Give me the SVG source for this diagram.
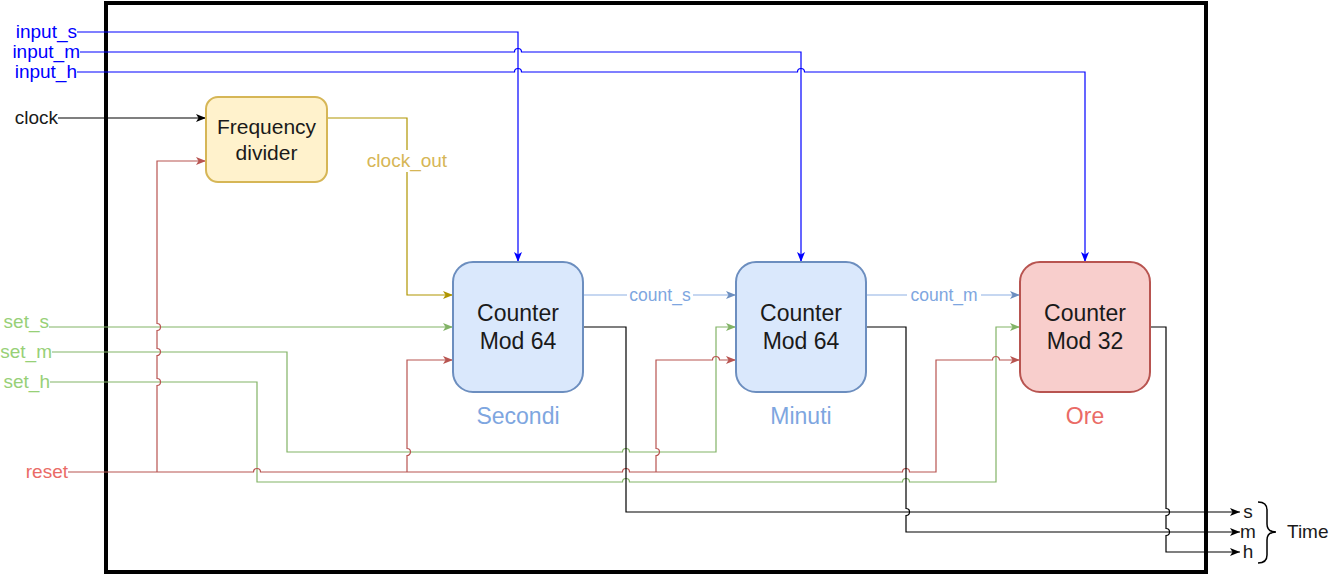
<svg xmlns="http://www.w3.org/2000/svg" width="1340" height="575" viewBox="0 0 1340 575">
<style>
text{font-family:"Liberation Sans",Arial,Helvetica,sans-serif;}
.w{fill:none;stroke-width:1.2;}
.blue{stroke:#0000FF;}
.blk{stroke:#000000;}
.yel{stroke:#B09500;}
.lb{stroke:#8DB0E3;}
.grn{stroke:#82B366;}
.red{stroke:#B85450;}
.lbl{font-size:19px;}
.big{font-size:23px;fill:#1a1a1a;text-anchor:middle;}
.cap{font-size:23px;text-anchor:middle;}
</style>
<defs>
<marker id="aBlue" markerUnits="userSpaceOnUse" markerWidth="11" markerHeight="9" refX="10" refY="4.5" orient="auto" viewBox="0 0 11 9"><path d="M0 0.5 L10 4.5 L0 8.5 L2.5 4.5 Z" fill="#0000FF"/></marker>
<marker id="aBlk" markerUnits="userSpaceOnUse" markerWidth="11" markerHeight="9" refX="10" refY="4.5" orient="auto" viewBox="0 0 11 9"><path d="M0 0.5 L10 4.5 L0 8.5 L2.5 4.5 Z" fill="#000000"/></marker>
<marker id="aYel" markerUnits="userSpaceOnUse" markerWidth="11" markerHeight="9" refX="10" refY="4.5" orient="auto" viewBox="0 0 11 9"><path d="M0 0.5 L10 4.5 L0 8.5 L2.5 4.5 Z" fill="#B09500"/></marker>
<marker id="aLb" markerUnits="userSpaceOnUse" markerWidth="11" markerHeight="9" refX="10" refY="4.5" orient="auto" viewBox="0 0 11 9"><path d="M0 0.5 L10 4.5 L0 8.5 L2.5 4.5 Z" fill="#6C8EBF"/></marker>
<marker id="aGrn" markerUnits="userSpaceOnUse" markerWidth="11" markerHeight="9" refX="10" refY="4.5" orient="auto" viewBox="0 0 11 9"><path d="M0 0.5 L10 4.5 L0 8.5 L2.5 4.5 Z" fill="#82B366"/></marker>
<marker id="aRed" markerUnits="userSpaceOnUse" markerWidth="11" markerHeight="9" refX="10" refY="4.5" orient="auto" viewBox="0 0 11 9"><path d="M0 0.5 L10 4.5 L0 8.5 L2.5 4.5 Z" fill="#B85450"/></marker>
</defs>
<rect width="1340" height="575" fill="#ffffff"/>
<g id="frame"><rect x="106" y="3" width="1100" height="569" fill="none" stroke="#000000" stroke-width="4"/></g>

<g id="connectors">
<path class="w blue" d="M77 32 H518 V262" marker-end="url(#aBlue)"/>
<path class="w blue" d="M80 52 H514.5 A3.5 3.5 0 0 1 521.5 52 H801 V262" marker-end="url(#aBlue)"/>
<path class="w blue" d="M77 72 H514.5 A3.5 3.5 0 0 1 521.5 72 H797.5 A3.5 3.5 0 0 1 804.5 72 H1085 V262" marker-end="url(#aBlue)"/>
<path class="w blk" d="M58 118 H206" marker-end="url(#aBlk)"/>
<path class="w yel" d="M327 118 H407 V295 H453" marker-end="url(#aYel)"/>
<path class="w lb" d="M583 295 H736" marker-end="url(#aLb)"/>
<path class="w lb" d="M866 295 H1020" marker-end="url(#aLb)"/>
<path class="w grn" d="M49 327 H453" marker-end="url(#aGrn)"/>
<path class="w grn" d="M52 352 H287 V452 H622.5 A3.5 3.5 0 0 1 629.5 452 H716 V327 H736" marker-end="url(#aGrn)"/>
<path class="w grn" d="M50 382 H257 V482 H622.5 A3.5 3.5 0 0 1 629.5 482 H902.5 A3.5 3.5 0 0 1 909.5 482 H996 V327 H1020" marker-end="url(#aGrn)"/>
<path class="w red" d="M68 472 H253.5 A3.5 3.5 0 0 1 260.5 472 H622.5 A3.5 3.5 0 0 1 629.5 472 H902.5 A3.5 3.5 0 0 1 909.5 472 H936 V360 H992.5 A3.5 3.5 0 0 1 999.5 360 H1020" marker-end="url(#aRed)"/>
<path class="w red" d="M157 472 V385.5 A3.5 3.5 0 0 0 157 378.5 V355.5 A3.5 3.5 0 0 0 157 348.5 V330.5 A3.5 3.5 0 0 0 157 323.5 V161 H206" marker-end="url(#aRed)"/>
<path class="w red" d="M407 472 V455.5 A3.5 3.5 0 0 0 407 448.5 V360 H453" marker-end="url(#aRed)"/>
<path class="w red" d="M656 472 V455.5 A3.5 3.5 0 0 0 656 448.5 V360 H712.5 A3.5 3.5 0 0 1 719.5 360 H736" marker-end="url(#aRed)"/>
<path class="w blk" d="M583 327 H626 V512 H1240" marker-end="url(#aBlk)"/>
<path class="w blk" d="M866 327 H906 V508.5 A3.5 3.5 0 0 1 906 515.5 V532 H1240" marker-end="url(#aBlk)"/>
<path class="w blk" d="M1150 327 H1166 V508.5 A3.5 3.5 0 0 1 1166 515.5 V528.5 A3.5 3.5 0 0 1 1166 535.5 V552 H1240" marker-end="url(#aBlk)"/>
<rect x="365" y="150" width="84" height="22" fill="#ffffff"/>
<text x="407" y="167" class="lbl" fill="#D6B656" text-anchor="middle">clock_out</text>
<rect x="627" y="285" width="66" height="20" fill="#ffffff"/>
<text x="660" y="301" font-size="17.5" fill="#7EA6E0" text-anchor="middle">count_s</text>
<rect x="907" y="285" width="74" height="20" fill="#ffffff"/>
<text x="944" y="301" font-size="17.5" fill="#7EA6E0" text-anchor="middle">count_m</text>
</g>

<g id="input_s"><text x="77" y="38" class="lbl" fill="#0000FF" text-anchor="end">input_s</text></g>
<g id="input_m"><text x="80" y="58" class="lbl" fill="#0000FF" text-anchor="end">input_m</text></g>
<g id="input_h"><text x="77" y="78" class="lbl" fill="#0000FF" text-anchor="end">input_h</text></g>
<g id="clock"><text x="58" y="124" class="lbl" fill="#1a1a1a" text-anchor="end">clock</text></g>
<g id="set_s"><text x="49" y="328" class="lbl" fill="#97D077" text-anchor="end">set_s</text></g>
<g id="set_m"><text x="52" y="358" class="lbl" fill="#97D077" text-anchor="end">set_m</text></g>
<g id="set_h"><text x="50" y="388" class="lbl" fill="#97D077" text-anchor="end">set_h</text></g>
<g id="reset"><text x="68" y="478" class="lbl" fill="#EA6B66" text-anchor="end">reset</text></g>

<g id="freq">
<rect x="206" y="97" width="121" height="85" rx="12" fill="#FFF2CC" stroke="#D6B656" stroke-width="2"/>
<text x="266.5" y="134" font-size="21" fill="#1a1a1a" text-anchor="middle">Frequency</text>
<text x="266.5" y="160" font-size="21" fill="#1a1a1a" text-anchor="middle">divider</text>
</g>
<g id="secondi">
<rect x="453" y="262" width="130" height="130" rx="20" fill="#DAE8FC" stroke="#6C8EBF" stroke-width="2"/>
<text x="518" y="321" class="big">Counter</text>
<text x="518" y="349" class="big">Mod 64</text>
<text x="518" y="424" class="cap" fill="#7EA6E0">Secondi</text>
</g>
<g id="minuti">
<rect x="736" y="262" width="130" height="130" rx="20" fill="#DAE8FC" stroke="#6C8EBF" stroke-width="2"/>
<text x="801" y="321" class="big">Counter</text>
<text x="801" y="349" class="big">Mod 64</text>
<text x="801" y="424" class="cap" fill="#7EA6E0">Minuti</text>
</g>
<g id="ore">
<rect x="1020" y="262" width="130" height="130" rx="20" fill="#F8CECC" stroke="#B85450" stroke-width="2"/>
<text x="1085" y="321" class="big">Counter</text>
<text x="1085" y="349" class="big">Mod 32</text>
<text x="1085" y="424" class="cap" fill="#EA6B66">Ore</text>
</g>
<g id="outputs">
<text x="1248" y="518" class="lbl" fill="#1a1a1a" text-anchor="middle">s</text>
<text x="1248" y="538" class="lbl" fill="#1a1a1a" text-anchor="middle">m</text>
<text x="1248" y="558" class="lbl" fill="#1a1a1a" text-anchor="middle">h</text>
<path d="M1258 502 Q1267 502 1267 510 V524 Q1267 532 1276 532 Q1267 532 1267 540 V555 Q1267 563 1258 563" fill="none" stroke="#000000" stroke-width="1.5"/>
<text x="1287" y="538" class="lbl" fill="#1a1a1a">Time</text>
</g>
</svg>
